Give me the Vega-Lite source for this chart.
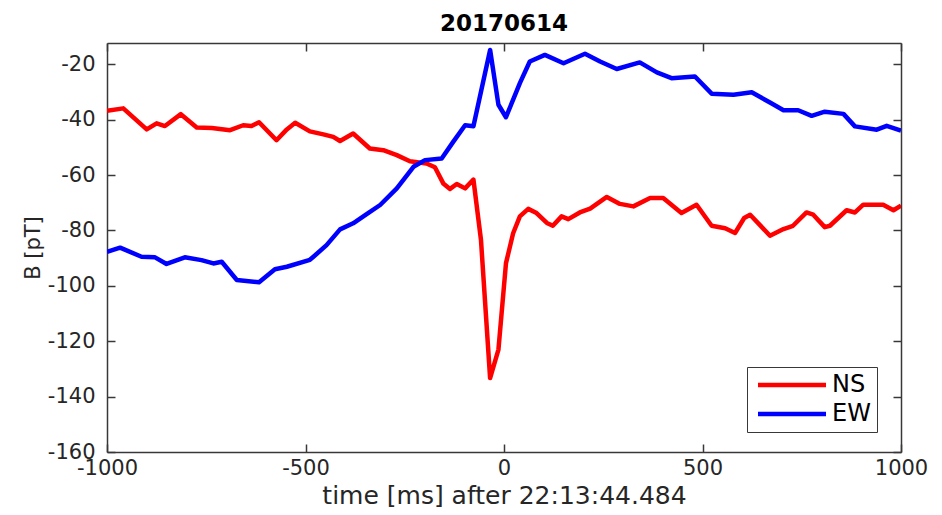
{
  "$schema": "https://vega.github.io/schema/vega-lite/v6.json",
  "width": 794,
  "height": 409,
  "autosize": {"type": "none"},
  "padding": {"left": 107, "top": 43, "right": 41, "bottom": 63},
  "background": "white",
  "title": {
    "text": "20170614",
    "font": "DejaVu Sans",
    "fontSize": 23,
    "fontWeight": "bold",
    "color": "#000000",
    "anchor": "middle",
    "offset": 6
  },
  "config": {
    "view": {"stroke": null},
    "font": "DejaVu Sans",
    "axis": {
      "domainColor": "#383838",
      "domainWidth": 1.5,
      "tickColor": "#383838",
      "tickWidth": 1.5,
      "tickSize": -8,
      "grid": false,
      "labelFont": "DejaVu Sans",
      "labelFontSize": 21,
      "labelColor": "#262626",
      "titleFont": "DejaVu Sans",
      "titleFontWeight": "normal",
      "titleColor": "#262626"
    }
  },
  "data": {
    "values": [
      {"t": -1000, "B": -36.8, "comp": "NS"},
      {"t": -959, "B": -35.9, "comp": "NS"},
      {"t": -900, "B": -43.5, "comp": "NS"},
      {"t": -875, "B": -41.3, "comp": "NS"},
      {"t": -854, "B": -42.3, "comp": "NS"},
      {"t": -814, "B": -38.0, "comp": "NS"},
      {"t": -774, "B": -42.8, "comp": "NS"},
      {"t": -736, "B": -43.0, "comp": "NS"},
      {"t": -690, "B": -43.8, "comp": "NS"},
      {"t": -657, "B": -42.0, "comp": "NS"},
      {"t": -636, "B": -42.3, "comp": "NS"},
      {"t": -617, "B": -40.9, "comp": "NS"},
      {"t": -573, "B": -47.4, "comp": "NS"},
      {"t": -547, "B": -43.5, "comp": "NS"},
      {"t": -526, "B": -41.1, "comp": "NS"},
      {"t": -489, "B": -44.2, "comp": "NS"},
      {"t": -455, "B": -45.3, "comp": "NS"},
      {"t": -430, "B": -46.2, "comp": "NS"},
      {"t": -413, "B": -47.7, "comp": "NS"},
      {"t": -380, "B": -45.0, "comp": "NS"},
      {"t": -338, "B": -50.4, "comp": "NS"},
      {"t": -304, "B": -51.0, "comp": "NS"},
      {"t": -270, "B": -52.8, "comp": "NS"},
      {"t": -237, "B": -55.0, "comp": "NS"},
      {"t": -195, "B": -55.8, "comp": "NS"},
      {"t": -174, "B": -57.2, "comp": "NS"},
      {"t": -153, "B": -63.0, "comp": "NS"},
      {"t": -136, "B": -65.0, "comp": "NS"},
      {"t": -119, "B": -63.2, "comp": "NS"},
      {"t": -98, "B": -64.8, "comp": "NS"},
      {"t": -77, "B": -61.6, "comp": "NS"},
      {"t": -58, "B": -83.4, "comp": "NS"},
      {"t": -35, "B": -133.3, "comp": "NS"},
      {"t": -14, "B": -123.0, "comp": "NS"},
      {"t": 5, "B": -91.8, "comp": "NS"},
      {"t": 23, "B": -81.0, "comp": "NS"},
      {"t": 40, "B": -74.9, "comp": "NS"},
      {"t": 61, "B": -72.2, "comp": "NS"},
      {"t": 82, "B": -73.7, "comp": "NS"},
      {"t": 108, "B": -77.3, "comp": "NS"},
      {"t": 123, "B": -78.3, "comp": "NS"},
      {"t": 145, "B": -74.9, "comp": "NS"},
      {"t": 162, "B": -75.9, "comp": "NS"},
      {"t": 191, "B": -73.5, "comp": "NS"},
      {"t": 217, "B": -72.1, "comp": "NS"},
      {"t": 259, "B": -67.9, "comp": "NS"},
      {"t": 292, "B": -70.4, "comp": "NS"},
      {"t": 326, "B": -71.3, "comp": "NS"},
      {"t": 368, "B": -68.3, "comp": "NS"},
      {"t": 401, "B": -68.3, "comp": "NS"},
      {"t": 447, "B": -73.7, "comp": "NS"},
      {"t": 485, "B": -70.7, "comp": "NS"},
      {"t": 523, "B": -78.3, "comp": "NS"},
      {"t": 557, "B": -79.2, "comp": "NS"},
      {"t": 582, "B": -80.9, "comp": "NS"},
      {"t": 605, "B": -75.5, "comp": "NS"},
      {"t": 620, "B": -74.3, "comp": "NS"},
      {"t": 670, "B": -81.9, "comp": "NS"},
      {"t": 704, "B": -79.5, "comp": "NS"},
      {"t": 728, "B": -78.3, "comp": "NS"},
      {"t": 762, "B": -73.5, "comp": "NS"},
      {"t": 779, "B": -74.3, "comp": "NS"},
      {"t": 808, "B": -78.8, "comp": "NS"},
      {"t": 821, "B": -78.3, "comp": "NS"},
      {"t": 863, "B": -72.7, "comp": "NS"},
      {"t": 884, "B": -73.5, "comp": "NS"},
      {"t": 905, "B": -70.7, "comp": "NS"},
      {"t": 955, "B": -70.7, "comp": "NS"},
      {"t": 981, "B": -72.7, "comp": "NS"},
      {"t": 1000, "B": -71.0, "comp": "NS"},
      {"t": -1000, "B": -87.7, "comp": "EW"},
      {"t": -967, "B": -86.2, "comp": "EW"},
      {"t": -913, "B": -89.5, "comp": "EW"},
      {"t": -879, "B": -89.7, "comp": "EW"},
      {"t": -850, "B": -92.1, "comp": "EW"},
      {"t": -804, "B": -89.7, "comp": "EW"},
      {"t": -762, "B": -90.7, "comp": "EW"},
      {"t": -732, "B": -91.9, "comp": "EW"},
      {"t": -711, "B": -91.3, "comp": "EW"},
      {"t": -673, "B": -97.9, "comp": "EW"},
      {"t": -617, "B": -98.7, "comp": "EW"},
      {"t": -577, "B": -94.0, "comp": "EW"},
      {"t": -547, "B": -93.1, "comp": "EW"},
      {"t": -489, "B": -90.6, "comp": "EW"},
      {"t": -480, "B": -89.5, "comp": "EW"},
      {"t": -447, "B": -85.3, "comp": "EW"},
      {"t": -413, "B": -79.6, "comp": "EW"},
      {"t": -380, "B": -77.4, "comp": "EW"},
      {"t": -346, "B": -74.1, "comp": "EW"},
      {"t": -312, "B": -70.8, "comp": "EW"},
      {"t": -270, "B": -64.8, "comp": "EW"},
      {"t": -228, "B": -57.0, "comp": "EW"},
      {"t": -199, "B": -54.6, "comp": "EW"},
      {"t": -157, "B": -54.0, "comp": "EW"},
      {"t": -128, "B": -48.0, "comp": "EW"},
      {"t": -98, "B": -42.0, "comp": "EW"},
      {"t": -77, "B": -42.4, "comp": "EW"},
      {"t": -35, "B": -14.8, "comp": "EW"},
      {"t": -14, "B": -34.6, "comp": "EW"},
      {"t": 5, "B": -39.1, "comp": "EW"},
      {"t": 40, "B": -26.8, "comp": "EW"},
      {"t": 65, "B": -19.0, "comp": "EW"},
      {"t": 103, "B": -16.6, "comp": "EW"},
      {"t": 150, "B": -19.6, "comp": "EW"},
      {"t": 204, "B": -16.2, "comp": "EW"},
      {"t": 242, "B": -19.0, "comp": "EW"},
      {"t": 284, "B": -21.7, "comp": "EW"},
      {"t": 342, "B": -19.3, "comp": "EW"},
      {"t": 385, "B": -22.9, "comp": "EW"},
      {"t": 422, "B": -25.0, "comp": "EW"},
      {"t": 481, "B": -24.4, "comp": "EW"},
      {"t": 523, "B": -30.6, "comp": "EW"},
      {"t": 578, "B": -31.0, "comp": "EW"},
      {"t": 624, "B": -30.1, "comp": "EW"},
      {"t": 670, "B": -33.8, "comp": "EW"},
      {"t": 704, "B": -36.6, "comp": "EW"},
      {"t": 741, "B": -36.6, "comp": "EW"},
      {"t": 775, "B": -38.6, "comp": "EW"},
      {"t": 808, "B": -37.1, "comp": "EW"},
      {"t": 855, "B": -37.9, "comp": "EW"},
      {"t": 884, "B": -42.4, "comp": "EW"},
      {"t": 939, "B": -43.6, "comp": "EW"},
      {"t": 964, "B": -42.2, "comp": "EW"},
      {"t": 1000, "B": -43.9, "comp": "EW"}
    ]
  },
  "layer": [
    {
      "mark": {"type": "line", "strokeWidth": 4.5, "strokeJoin": "round", "clip": true},
      "encoding": {
        "x": {
          "field": "t",
          "type": "quantitative",
          "scale": {"domain": [-1000, 1000], "nice": false, "zero": false},
          "axis": {
            "orient": "bottom",
            "title": "time [ms] after 22:13:44.484",
            "titleFontSize": 25,
            "values": [-1000, -500, 0, 500, 1000],
            "labelExpr": "'' + datum.value",
            "labelPadding": 13,
            "titlePadding": 5,
            "labelFlush": false
          }
        },
        "y": {
          "field": "B",
          "type": "quantitative",
          "scale": {"domain": [-160, -12.3], "nice": false, "zero": false},
          "axis": {
            "orient": "left",
            "title": "B [pT]",
            "titleFontSize": 21,
            "values": [-160, -140, -120, -100, -80, -60, -40, -20],
            "labelExpr": "'' + datum.value",
            "labelPadding": 20,
            "titlePadding": 4,
            "labelFlush": false
          }
        },
        "color": {
          "field": "comp",
          "type": "nominal",
          "sort": ["NS", "EW"],
          "scale": {"domain": ["NS", "EW"], "range": ["#ff0000", "#0000ff"]},
          "legend": {
            "title": null,
            "orient": "none",
            "legendX": 640,
            "legendY": 324,
            "symbolType": "M-0.875,0H7.625",
            "symbolSize": 256,
            "symbolStrokeWidth": 4.5,
            "labelFont": "DejaVu Sans",
            "labelFontSize": 24,
            "labelColor": "#000000",
            "labelOffset": 55,
            "strokeColor": "#383838",
            "fillColor": "white",
            "padding": 6,
            "rowPadding": 5
          }
        }
      }
    },
    {
      "mark": {"type": "line", "strokeOpacity": 0},
      "encoding": {
        "x": {
          "field": "t",
          "type": "quantitative",
          "axis": {"orient": "top", "title": null, "labels": false, "values": [-1000, -500, 0, 500, 1000]}
        },
        "y": {
          "field": "B",
          "type": "quantitative",
          "axis": {"orient": "right", "title": null, "labels": false, "values": [-160, -140, -120, -100, -80, -60, -40, -20]}
        },
        "detail": {"field": "comp"}
      }
    }
  ],
  "resolve": {"axis": {"x": "independent", "y": "independent"}}
}
